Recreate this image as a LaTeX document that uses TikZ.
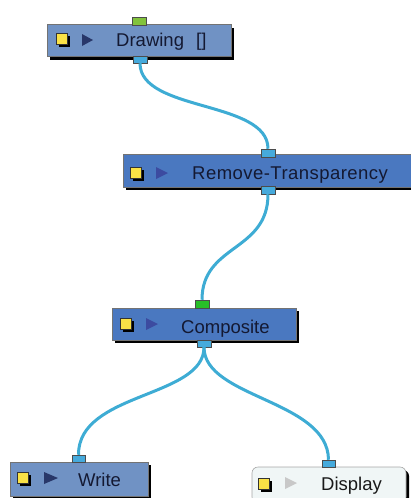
\documentclass[tikz,border=0pt]{standalone}
\usepackage{fontspec}
\setmainfont{Liberation Sans}
\usetikzlibrary{shadows}
\definecolor{boxA}{RGB}{112,146,196}
\definecolor{boxB}{RGB}{74,120,192}
\definecolor{dispfill}{RGB}{240,246,246}
\definecolor{txtcol}{RGB}{20,25,50}
\definecolor{wirecol}{RGB}{62,172,212}
\definecolor{portblue}{RGB}{70,170,220}
\definecolor{portgreenA}{RGB}{130,195,60}
\definecolor{portgreenB}{RGB}{40,190,40}
\definecolor{iconyellow}{RGB}{250,226,70}
\definecolor{triA}{RGB}{40,55,105}
\definecolor{triB}{RGB}{60,75,160}
\definecolor{triC}{RGB}{200,200,200}
\tikzset{
  nodebox/.style={draw=black!55, line width=0.6pt, inner sep=0pt, minimum height=32pt,
    drop shadow={shadow xshift=3pt, shadow yshift=-3pt, opacity=1, fill=black}},
  portbox/.style={draw=black!70, line width=0.5pt, inner sep=0pt, minimum width=14pt, minimum height=8pt},
  ysq/.style={draw=black!80, line width=0.4pt, fill=iconyellow, inner sep=0pt, minimum size=11pt,
    drop shadow={shadow xshift=2.5pt, shadow yshift=-2.5pt, opacity=1, fill=black}},
  lbl/.style={anchor=base west, inner sep=0pt, font=\fontsize{18.5}{20}\selectfont, text=txtcol},
  wire/.style={draw=wirecol, line width=3pt}
}
\begin{document}
\begin{tikzpicture}[x=1pt,y=-1pt]
\useasboundingbox (0,0) rectangle (411,498);
% boxes
\node[nodebox, fill=boxA, minimum width=184pt] (draw) at (139,40.5) {};
\node[nodebox, fill=boxB, minimum width=300pt, minimum height=33pt] (rt) at (273,170.5) {};
\node[nodebox, fill=boxB, minimum width=184pt] (comp) at (204,324) {};
\node[nodebox, fill=boxA, minimum width=138pt, minimum height=34pt] (write) at (79,479) {};
\node[nodebox, fill=dispfill, draw=black!35, rounded corners=6pt, minimum width=154pt, minimum height=36pt] (disp) at (329,485) {};
% icons
\node[ysq] (draw-sq) at (61.5,38.5) {};
\node[ysq] (rt-sq) at (135.5,172.5) {};
\node[ysq] (comp-sq) at (125.5,323.5) {};
\node[ysq] (write-sq) at (22.5,477.5) {};
\node[ysq] (disp-sq) at (263.5,483.5) {};
\fill[triA] (82,34) -- (93,40) -- (82,46) -- cycle;
\fill[triB] (156,167) -- (168,173) -- (156,179) -- cycle;
\fill[triB] (146,318) -- (158,324) -- (146,330) -- cycle;
\fill[triA] (44,472) -- (58,478) -- (44,484) -- cycle;
\fill[triC] (285,477) -- (297,483) -- (285,489) -- cycle;
% labels
\node[lbl] (draw-t) at (116,46.5) {Drawing\hspace{7pt} []};
\node[lbl] (rt-t) at (192,179.5) {\addfontfeature{LetterSpace=2.5}Remove-Transparency};
\node[lbl] (comp-t) at (181,333) {Composite};
\node[lbl] (write-t) at (78,486) {Write};
\node[lbl, text=black!90] (disp-t) at (321,490) {Display};
% ports
\node[portbox, fill=portgreenA] (draw-in) at (139,21) {};
\node[portbox, fill=portblue, minimum height=7pt] (draw-out) at (140,59.5) {};
\node[portbox, fill=portblue] (rt-in) at (268,153) {};
\node[portbox, fill=portblue] (rt-out) at (268,190) {};
\node[portbox, fill=portgreenB] (comp-in) at (202,304) {};
\node[portbox, fill=portblue, minimum height=7pt] (comp-out) at (204,343.5) {};
\node[portbox, fill=portblue, minimum width=13pt, minimum height=7pt] (write-in) at (78.5,458.5) {};
\node[portbox, fill=portblue, minimum width=13pt, minimum height=7pt] (disp-in) at (328.5,463.5) {};
% wires
\draw[wire] (draw-out.south) .. controls (140,112) and (268,100) .. (rt-in.north);
\draw[wire] (rt-out.south) .. controls (268,252) and (202,244) .. (comp-in.north);
\draw[wire] (comp-out.south) .. controls (204,398) and (78,392) .. (write-in.north);
\draw[wire] (comp-out.south) .. controls (204,398) and (328,400) .. (disp-in.north);
\end{tikzpicture}
\end{document}
